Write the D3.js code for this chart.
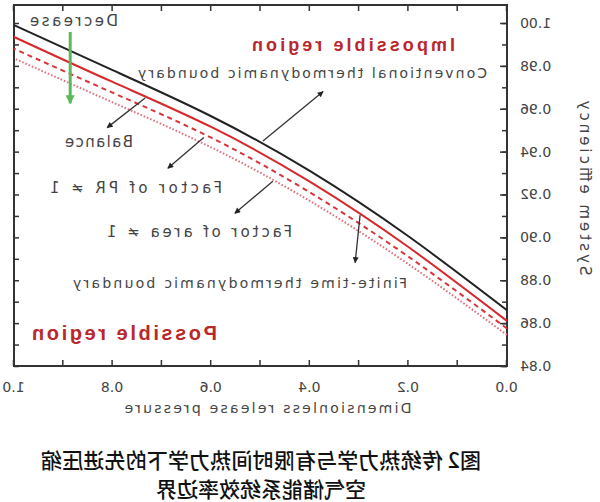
<!DOCTYPE html>
<html>
<head>
<meta charset="utf-8">
<script src="https://cdn.jsdelivr.net/npm/d3@7/dist/d3.min.js"></script>
<style>
  html, body { margin: 0; padding: 0; background: #fff; }
  svg { display: block; }
</style>
</head>
<body>
<div id="chart"></div>
<script>
// ---- data ----
const pressure = [0.0, 0.2, 0.4, 0.6, 0.8, 1.0];
const conventional = [0.866, 0.9005, 0.931, 0.9565, 0.978, 0.999];
const balance      = [0.861, 0.8955, 0.926, 0.9515, 0.9725, 0.9935];
const factorPR     = [0.8575, 0.891, 0.921, 0.9465, 0.9675, 0.988];
const factorArea   = [0.8545, 0.8875, 0.917, 0.942, 0.963, 0.9835];
const xTicks = [0.0, 0.2, 0.4, 0.6, 0.8, 1.0];
const yTicks = [0.84, 0.86, 0.88, 0.90, 0.92, 0.94, 0.96, 0.98, 1.00];
const xLabel = "Dimensionless release pressure";
const yLabel = "System efficiency";
const captionLines = ["图2 传统热力学与有限时间热力学下的先进压缩", "空气储能系统效率边界"];

// ---- layout ----
const W = 600, H = 502;
const L = 93, R = 586, T = 5, B = 366;

const svg = d3.select("#chart").append("svg").attr("width", W).attr("height", H);
// the reference is a horizontally mirrored picture
const root = svg.append("g").attr("transform", `translate(${W},0) scale(-1,1)`);

const x = d3.scaleLinear().domain([0, 1]).range([L, R]);
const y = d3.scaleLinear().domain([0.84, 1.0084]).range([B, T]);

const defs = svg.append("defs");
function marker(id, color, w, h) {
  defs.append("marker").attr("id", id)
    .attr("viewBox", "0 0 10 10").attr("refX", 9).attr("refY", 5)
    .attr("markerWidth", w).attr("markerHeight", h).attr("orient", "auto")
    .attr("markerUnits", "userSpaceOnUse")
    .append("path").attr("d", "M0,0 L10,5 L0,10 z").attr("fill", color);
}
marker("ah", "#222", 10, 6);
marker("ahg", "#5cb85c", 12, 9);

const FAM = "'DejaVu Sans', 'Liberation Sans', sans-serif";

// ---- axes ----
const axisColor = "#333";
const fontTick = "14px " + FAM;
const minorX = d3.range(0, 1.0001, 0.1);
const minorY = d3.range(0.84, 1.0001, 0.01);

const gAx = root.append("g");
gAx.append("g").attr("transform", `translate(0,${B})`)
  .call(d3.axisBottom(x).tickValues(minorX).tickSize(-6).tickFormat(""))
  .call(g => g.select(".domain").remove());
gAx.append("g").attr("transform", `translate(0,${B})`)
  .call(d3.axisBottom(x).tickValues(xTicks).tickSize(0).tickPadding(16).tickFormat(d3.format(".1f")))
  .call(g => g.select(".domain").remove());
gAx.append("g").attr("transform", `translate(0,${T})`)
  .call(d3.axisTop(x).tickValues(minorX).tickSize(-6).tickFormat(""))
  .call(g => g.select(".domain").remove());
gAx.append("g").attr("transform", `translate(${L},0)`)
  .call(d3.axisLeft(y).tickValues(minorY).tickSize(-5).tickFormat(""))
  .call(g => g.select(".domain").remove());
gAx.append("g").attr("transform", `translate(${L},0)`)
  .call(d3.axisLeft(y).tickValues(yTicks).tickSize(-7).tickPadding(13).tickFormat(d3.format(".2f")))
  .call(g => g.select(".domain").remove());
gAx.append("g").attr("transform", `translate(${R},0)`)
  .call(d3.axisRight(y).tickValues(minorY).tickSize(-5).tickFormat(""))
  .call(g => g.select(".domain").remove());

gAx.selectAll(".tick line").attr("stroke", axisColor).attr("stroke-width", 1.5);
gAx.selectAll(".tick text").style("font", fontTick).attr("fill", "#444");

root.append("rect").attr("x", L).attr("y", T).attr("width", R - L).attr("height", B - T)
  .attr("fill", "none").attr("stroke", axisColor).attr("stroke-width", 2);

// ---- curves ----
const line = d3.line().x((d, i) => x(pressure[i])).y(d => y(d)).curve(d3.curveNatural);
const series = [
  { v: factorArea, color: "#e3707c", w: 2, dash: "1.6,1.9" },
  { v: factorPR, color: "#d8353a", w: 2, dash: "5,4" },
  { v: balance, color: "#d8282c", w: 2, dash: null },
  { v: conventional, color: "#222", w: 2, dash: null }
];
root.append("g").selectAll("path").data(series).join("path")
  .attr("d", s => line(s.v)).attr("fill", "none")
  .attr("stroke", s => s.color).attr("stroke-width", s => s.w)
  .attr("stroke-dasharray", s => s.dash);

// ---- annotations ----
const annFont = "14px " + FAM;
const arrows = [
  { from: [0.495, 0.9450], to: [0.373, 0.9680] },
  { from: [0.734, 0.9650], to: [0.811, 0.9512] },
  { from: [0.615, 0.9466], to: [0.688, 0.9322] },
  { from: [0.475, 0.9262], to: [0.552, 0.9112] },
  { from: [0.298, 0.9104], to: [0.308, 0.8882] }
];
root.append("g").selectAll("line").data(arrows).join("line")
  .attr("x1", d => x(d.from[0])).attr("y1", d => y(d.from[1]))
  .attr("x2", d => x(d.to[0])).attr("y2", d => y(d.to[1]))
  .attr("stroke", "#333").attr("stroke-width", 1.3).attr("marker-end", "url(#ah)");

root.append("line")
  .attr("x1", x(0.886)).attr("y1", y(0.9958)).attr("x2", x(0.886)).attr("y2", y(0.9625))
  .attr("stroke", "#5cb85c").attr("stroke-width", 3).attr("marker-end", "url(#ahg)");

const texts = [
  { t: "Decrease", x0: 482, x1: 570, yb: 26, font: "15px " + FAM, fill: "#444" },
  { t: "Impossible region", x0: 145, x1: 348, yb: 51, font: "bold 18px 'Liberation Sans', Arial, sans-serif", fill: "#b8282c" },
  { t: "Conventional thermodynamic boundary", x0: 113, x1: 462, yb: 78, font: annFont, fill: "#444" },
  { t: "Balance", x0: 467, x1: 535, yb: 147, font: "15px " + FAM, fill: "#444" },
  { t: "Factor of PR \u2260 1", x0: 378, x1: 550, yb: 193, font: "15px " + FAM, fill: "#444" },
  { t: "Factor of area \u2260 1", x0: 308, x1: 493, yb: 237, font: "15px " + FAM, fill: "#444" },
  { t: "Finite-time thermodynamic boundary", x0: 193, x1: 527, yb: 288, font: annFont, fill: "#444" },
  { t: "Possible region", x0: 383, x1: 568, yb: 340, font: "bold 20px 'Liberation Sans', Arial, sans-serif", fill: "#b8282c" }
];
root.append("g").selectAll("text").data(texts).join("text")
  .attr("x", d => d.x0).attr("y", d => d.yb)
  .attr("textLength", d => d.x1 - d.x0).attr("lengthAdjust", "spacing")
  .style("font", d => d.font).attr("fill", d => d.fill).text(d => d.t);

root.append("text").attr("x", 332).attr("y", 413).attr("text-anchor", "middle")
  .attr("textLength", 287).attr("lengthAdjust", "spacing")
  .style("font", "14px " + FAM).attr("fill", "#444").text(xLabel);
root.append("text").attr("transform", "translate(20,188) rotate(-90)").attr("text-anchor", "middle")
  .attr("textLength", 175).attr("lengthAdjust", "spacing")
  .style("font", "15px " + FAM).attr("fill", "#444").text(yLabel);

root.append("g").selectAll("text").data(captionLines).join("text")
  .attr("x", 339).attr("y", (d, i) => 468 + i * 29).attr("text-anchor", "middle")
  .attr("textLength", (d, i) => i === 0 ? 440 : 210).attr("lengthAdjust", "spacing")
  .style("font", "500 21px 'Noto Sans CJK SC', sans-serif").attr("fill", "#111").text(d => d);
</script>
</body>
</html>
